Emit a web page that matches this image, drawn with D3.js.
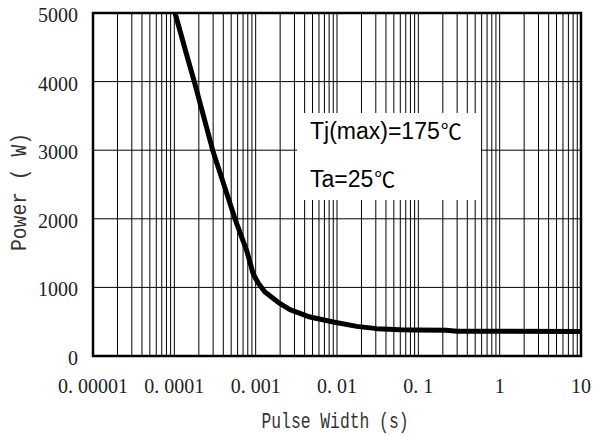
<!DOCTYPE html>
<html>
<head>
<meta charset="utf-8">
<script src="https://cdn.jsdelivr.net/npm/d3@7"></script>
<style>
  body { margin: 0; background: #fff; }
  svg { display: block; }
</style>
</head>
<body>
<div id="chart"></div>
<script>
const w = 597;
const h = 434;

// curve
const pulseWidth = [1.02e-4, 1.49e-4, 1.76e-4, 2.96e-4, 5.57e-4, 7.83e-4, 9.3e-4, 1.08e-3, 1.3e-3,
  2.0e-3, 2.64e-3, 4.66e-3, 9.0e-3, 1.75e-2, 3.08e-2, 5.96e-2, 0.091, 0.22, 0.30, 1.0, 10];
const power = [5000, 4300, 4000, 3000, 2000, 1520, 1200, 1060, 932,
  763, 675, 568, 495, 432, 399, 384, 380, 374, 362, 360, 358];

const xTicks = [1e-5, 1e-4, 1e-3, 1e-2, 1e-1, 1, 10];
const xTickLabels = ["0. 00001", "0. 0001", "0. 001", "0. 01", "0. 1", "1", "10"];
const yTicks = [0, 1000, 2000, 3000, 4000, 5000];
const notes = [["Tj(max)=175", "℃"], ["Ta=25", "℃"]];

const serif = "'Liberation Serif', serif";
const mono = "'Liberation Mono', monospace";
const sans = "'Liberation Sans', sans-serif";

const svg = d3.select("#chart").append("svg")
  .attr("width", w)
  .attr("height", h);

const x = d3.scaleLog().domain([1e-5, 10]).range([93, 581]);
const y = d3.scaleLinear().domain([0, 5000]).range([356, 13]);

// vertical grid: 1..9 in every decade
const vLines = [];
d3.range(-5, 1).forEach((e) => {
  d3.range(1, 10).forEach((m) => {
    const v = m * Math.pow(10, e);
    if (v > 1e-5) vLines.push(v);
  });
});

const grid = svg.append("g");
grid.selectAll("line.v")
  .data(vLines)
  .enter()
  .append("line")
  .attr("class", "v")
  .attr("x1", (d) => x(d)).attr("x2", (d) => x(d))
  .attr("y1", y(5000)).attr("y2", y(0))
  .attr("stroke", "#000")
  .attr("stroke-width", 1);

grid.selectAll("line.h")
  .data(yTicks.slice(1, -1))
  .enter()
  .append("line")
  .attr("class", "h")
  .attr("x1", x(1e-5)).attr("x2", x(10))
  .attr("y1", (d) => y(d)).attr("y2", (d) => y(d))
  .attr("stroke", "#000")
  .attr("stroke-width", 1);

// white box behind the notes
svg.append("rect")
  .attr("x", 297).attr("y", 113)
  .attr("width", 184).attr("height", 87)
  .attr("fill", "#fff");

// frame
svg.append("rect")
  .attr("x", x(1e-5)).attr("y", y(5000))
  .attr("width", x(10) - x(1e-5))
  .attr("height", y(0) - y(5000))
  .attr("fill", "none")
  .attr("stroke", "#000")
  .attr("stroke-width", 2.5);

// the curve
const pts = pulseWidth.map((t, i) => [t, power[i]]);
const line = d3.line()
  .x((d) => x(d[0]))
  .y((d) => y(d[1]));

svg.append("path")
  .datum(pts)
  .attr("d", line)
  .attr("fill", "none")
  .attr("stroke", "#000")
  .attr("stroke-width", 5)
  .attr("stroke-linejoin", "round");

// tick labels
svg.append("g").selectAll("text")
  .data(yTicks)
  .enter()
  .append("text")
  .style("font-family", serif)
  .style("font-size", "20px")
  .attr("fill", "#222")
  .attr("x", 78)
  .attr("y", (d) => y(d) + 9)
  .attr("text-anchor", "end")
  .text((d) => d);

svg.append("g").selectAll("text")
  .data(xTicks)
  .enter()
  .append("text")
  .style("font-family", serif)
  .style("font-size", "20px")
  .attr("fill", "#222")
  .attr("x", (d) => x(d))
  .attr("y", 393)
  .attr("text-anchor", "middle")
  .text((d, i) => xTickLabels[i]);

// axis titles
svg.append("text")
  .style("font-family", mono)
  .style("font-size", "22px")
  .attr("fill", "#333")
  .attr("x", 335).attr("y", 428)
  .attr("text-anchor", "middle")
  .attr("textLength", 147)
  .attr("lengthAdjust", "spacingAndGlyphs")
  .text("Pulse Width (s)");

svg.append("text")
  .style("font-family", mono)
  .style("font-size", "22px")
  .attr("fill", "#333")
  .attr("transform", "translate(26,192) rotate(-90)")
  .attr("text-anchor", "middle")
  .attr("textLength", 118)
  .attr("lengthAdjust", "spacingAndGlyphs")
  .text("Power ( W)");

// notes
const noteText = svg.append("g").selectAll("text")
  .data(notes)
  .enter()
  .append("text")
  .style("font-family", sans)
  .style("font-size", "23px")
  .attr("x", 310)
  .attr("y", (d, i) => 139 + i * 48);
noteText.append("tspan").text((d) => d[0]);
noteText.append("tspan")
  .style("font-family", "'Noto Sans CJK SC'")
  .style("font-size", "21px")
  .attr("dx", 1)
  .text((d) => d[1]);
</script>
</body>
</html>
